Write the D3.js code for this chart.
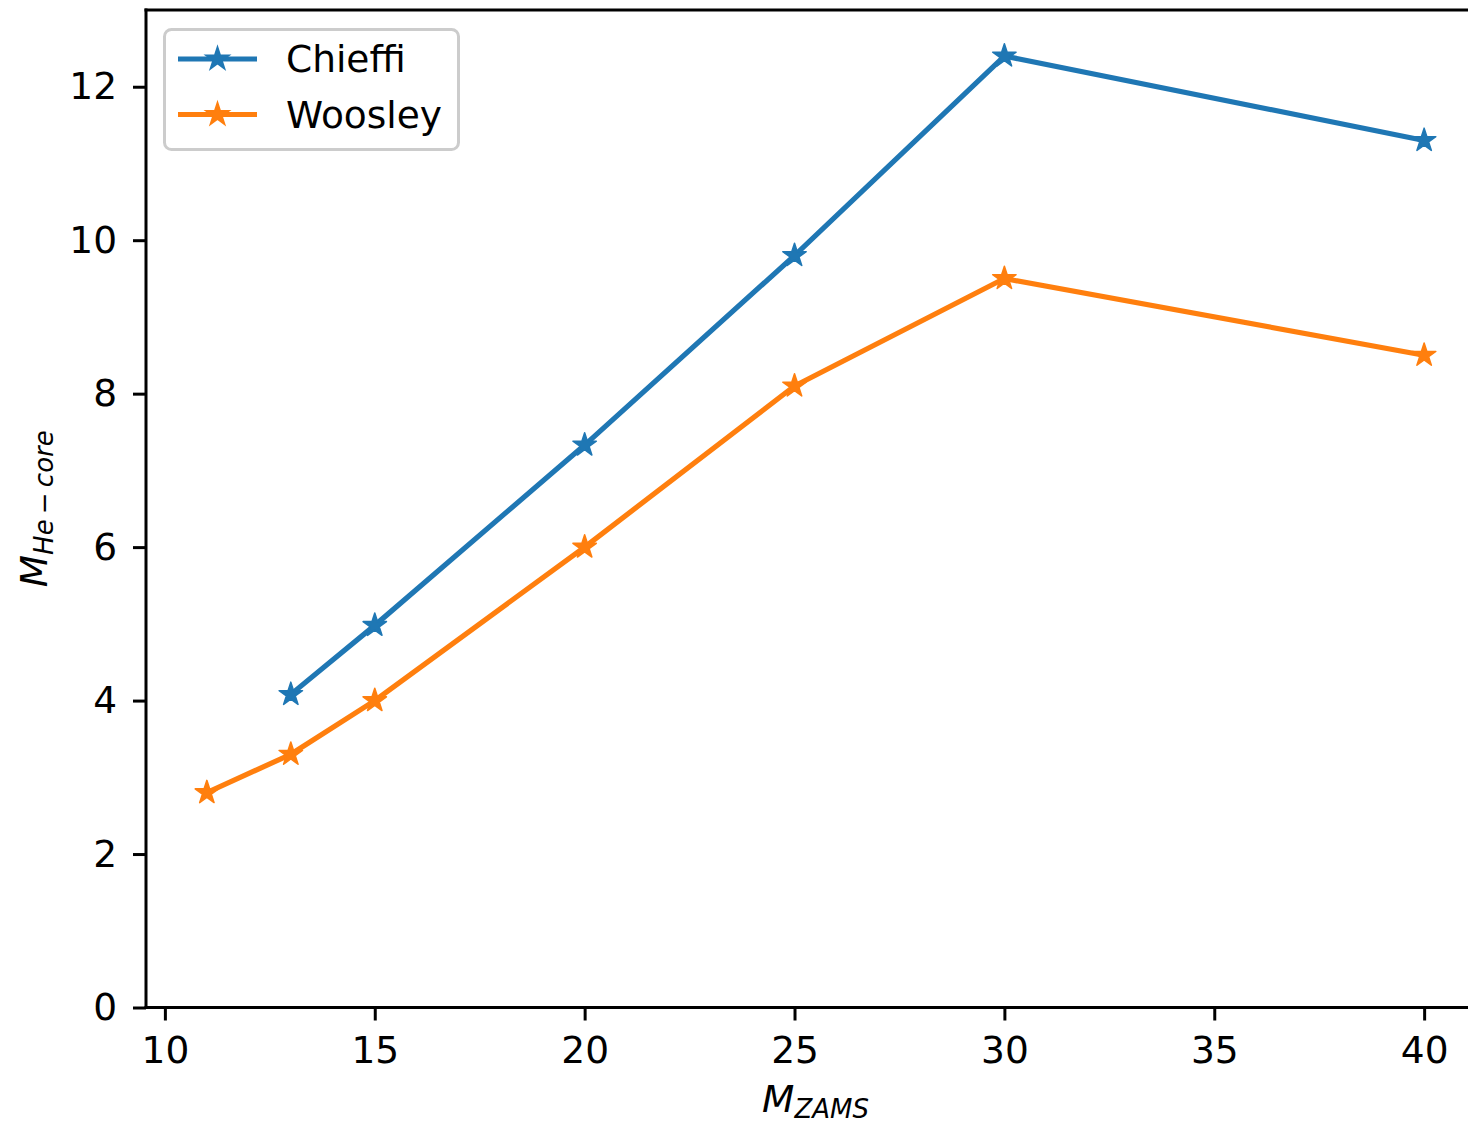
<!DOCTYPE html>
<html><head><meta charset="utf-8">
<script src="https://cdn.jsdelivr.net/npm/d3@7"></script>
<style>body{margin:0;background:#fff}svg{display:block}text{font-family:"DejaVu Sans",sans-serif}</style>
</head><body>
<script>
const chieffiX = [13, 15, 20, 25, 30, 40];
const chieffiY = [4.08, 4.98, 7.33, 9.8, 12.4, 11.3];
const woosleyX = [11, 13, 15, 20, 25, 30, 40];
const woosleyY = [2.8, 3.3, 4.0, 6.0, 8.1, 9.5, 8.5];
const xTicks = [10, 15, 20, 25, 30, 35, 40];
const yTicks = [0, 2, 4, 6, 8, 10, 12];
const seriesNames = ["Chieffi", "Woosley"];
const colors = ["#1f77b4", "#ff7f0e"];

const W = 1468, H = 1125;
const L = 146, R = 1485, T = 10, B = 1007.5;
const svg = d3.select("body").append("svg").attr("width", W).attr("height", H);
const x = d3.scaleLinear().domain([9.55, 41.45]).range([L, R]);
const y = d3.scaleLinear().domain([0, 13]).range([B, T]);
const fs = 37.5;

const series = [
  {name: seriesNames[0], xs: chieffiX, ys: chieffiY, color: colors[0]},
  {name: seriesNames[1], xs: woosleyX, ys: woosleyY, color: colors[1]}
];
const line = d3.line().x(d => x(d[0])).y(d => y(d[1]));
const star = d3.symbol().type(d3.symbolStar).size(170);

const plot = svg.append("g");
series.forEach(s => {
  const pts = s.xs.map((v, i) => [v, s.ys[i]]);
  plot.append("path").datum(pts).attr("d", line).attr("fill", "none")
    .attr("stroke", s.color).attr("stroke-width", 5.2).attr("stroke-linejoin", "round").attr("stroke-linecap", "square");
  plot.selectAll(null).data(pts).enter().append("path")
    .attr("d", star).attr("transform", d => `translate(${x(d[0])},${y(d[1])})`)
    .attr("fill", s.color).attr("stroke", s.color).attr("stroke-width", 1.5).attr("stroke-linejoin", "round");
});

// axes
const xAxis = svg.append("g").attr("transform", `translate(0,${B})`)
  .call(d3.axisBottom(x).tickValues(xTicks).tickSize(13).tickPadding(16).tickFormat(d3.format("d")));
const yAxis = svg.append("g").attr("transform", `translate(${L},0)`)
  .call(d3.axisLeft(y).tickValues(yTicks).tickSize(13).tickPadding(16).tickFormat(d3.format("d")));
[xAxis, yAxis].forEach(a => {
  a.select(".domain").remove();
  a.selectAll(".tick line").attr("stroke", "#000").attr("stroke-width", 3);
  a.selectAll(".tick text").attr("font-size", fs).attr("fill", "#000").attr("font-family", "DejaVu Sans");
});
// spines
svg.append("line").attr("x1", L).attr("x2", L).attr("y1", T).attr("y2", B).attr("stroke", "#000").attr("stroke-width", 3).attr("stroke-linecap", "square");
svg.append("line").attr("x1", L).attr("x2", R).attr("y1", B).attr("y2", B).attr("stroke", "#000").attr("stroke-width", 3).attr("stroke-linecap", "square");
svg.append("line").attr("x1", L).attr("x2", R).attr("y1", T).attr("y2", T).attr("stroke", "#000").attr("stroke-width", 3).attr("stroke-linecap", "square");

// axis labels
const xl = svg.append("text").attr("x", (L + R) / 2).attr("y", 1112).attr("text-anchor", "middle")
  .attr("font-size", fs).attr("font-style", "italic");
xl.append("tspan").text("M");
xl.append("tspan").attr("font-size", 26).attr("dy", 6).text("ZAMS");

const yl = svg.append("text").attr("transform", `translate(47,${(T + B) / 2}) rotate(-90)`).attr("text-anchor", "middle")
  .attr("font-size", fs).attr("font-style", "italic");
yl.append("tspan").text("M");
yl.append("tspan").attr("font-size", 26).attr("dy", 6).text("He\u2009\u2212\u2009core");

// legend
const lg = svg.append("g");
lg.append("rect").attr("x", 164.5).attr("y", 29.5).attr("width", 294).attr("height", 120).attr("rx", 7)
  .attr("fill", "#fff").attr("fill-opacity", 0.8).attr("stroke", "#cccccc").attr("stroke-width", 3);
series.forEach((s, i) => {
  const yy = 59 + i * 55.5;
  lg.append("line").attr("x1", 178).attr("x2", 257).attr("y1", yy).attr("y2", yy)
    .attr("stroke", s.color).attr("stroke-width", 5.2);
  lg.append("path").attr("d", star).attr("transform", `translate(217.5,${yy})`)
    .attr("fill", s.color).attr("stroke", s.color).attr("stroke-width", 1.5);
  lg.append("text").attr("x", 286).attr("y", yy + 13).attr("font-size", fs).text(s.name);
});
</script>
</body></html>
